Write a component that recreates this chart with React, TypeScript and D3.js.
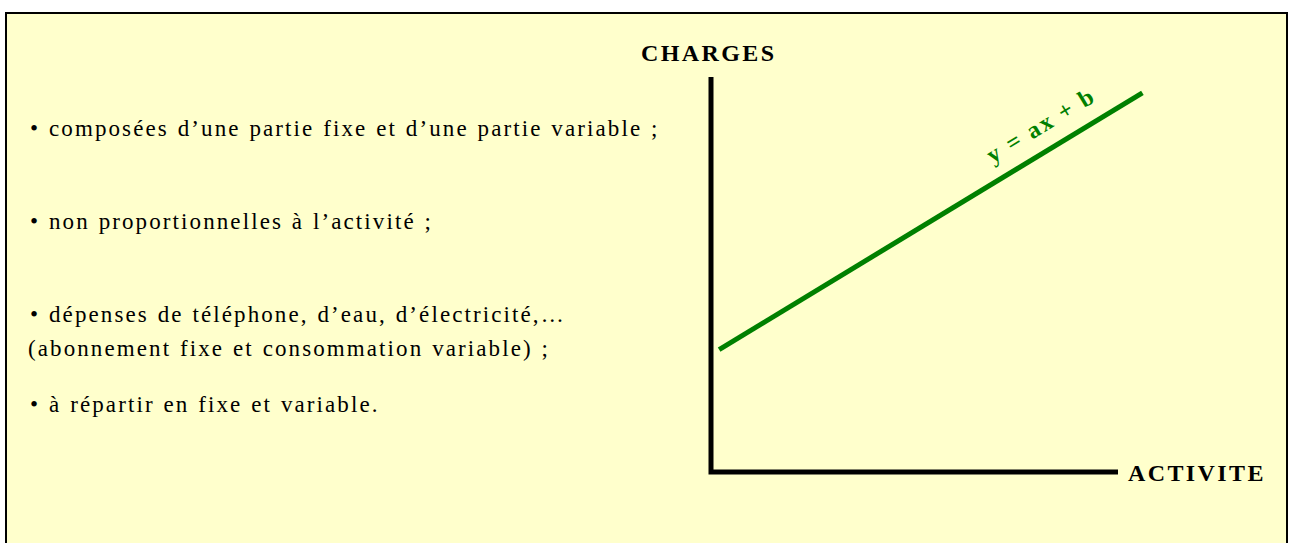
import { useEffect, useRef } from "react";
import * as d3 from "d3";

// text of the left column
const bulletLines = [
  "• composées d’une partie fixe et d’une partie variable ;",
  "• non proportionnelles à l’activité ;",
  "• dépenses de téléphone, d’eau, d’électricité,…",
  "(abonnement fixe et consommation variable) ;",
  "• à répartir en fixe et variable.",
];
const bulletBaselines = [136, 229, 322, 356, 412];

// axis labels
const yAxisLabel = "CHARGES";
const xAxisLabel = "ACTIVITE";
const lineLabel = "y = ax + b";

// the cost line, in axis units (0..100)
const activity = [2, 106];
const charges = [31, 96];

export default function App() {
  const ref = useRef<SVGSVGElement>(null);

  useEffect(() => {
    const svg = d3.select(ref.current);
    svg.selectAll("*").remove();

    const width = 1289;
    const height = 543;

    // frame
    svg.append("rect").attr("width", width).attr("height", height).attr("fill", "#ffffff");
    svg
      .append("rect")
      .attr("x", 6)
      .attr("y", 13)
      .attr("width", 1281)
      .attr("height", height)
      .attr("fill", "#ffffcc")
      .attr("stroke", "#000")
      .attr("stroke-width", 2);

    const font = "'Liberation Serif', 'Times New Roman', serif";

    // left column
    svg
      .append("g")
      .selectAll("text")
      .data(bulletLines)
      .enter()
      .append("text")
      .attr("x", (d, i) => (i === 3 ? 28 : 30))
      .attr("y", (d, i) => bulletBaselines[i])
      .attr("font-family", font)
      .attr("font-size", 23)
      .attr("letter-spacing", 2.1)
      .attr("word-spacing", 1)
      .attr("fill", "#000")
      .text((d) => d);

    // scales
    const x = d3.scaleLinear().domain([0, 100]).range([711, 1118]);
    const y = d3.scaleLinear().domain([0, 100]).range([472, 77]);

    // axes
    svg
      .append("path")
      .attr("d", `M${x(0)},${y(100)}V${y(0)}H${x(100)}`)
      .attr("fill", "none")
      .attr("stroke", "#000")
      .attr("stroke-width", 5);

    svg
      .append("text")
      .attr("x", 641)
      .attr("y", 61)
      .attr("font-family", font)
      .attr("font-weight", "bold")
      .attr("font-size", 24)
      .attr("letter-spacing", 2.4)
      .text(yAxisLabel);

    svg
      .append("text")
      .attr("x", x(100) + 10)
      .attr("y", y(0) + 9)
      .attr("font-family", font)
      .attr("font-weight", "bold")
      .attr("font-size", 24)
      .attr("letter-spacing", 2.4)
      .text(xAxisLabel);

    // the cost line
    const pts: [number, number][] = activity.map((a, i) => [x(a), y(charges[i])]);
    svg
      .append("path")
      .attr("d", d3.line()(pts))
      .attr("stroke", "#008000")
      .attr("stroke-width", 5)
      .attr("fill", "none");

    const angle = (Math.atan2(pts[1][1] - pts[0][1], pts[1][0] - pts[0][0]) * 180) / Math.PI;
    svg
      .append("text")
      .attr("transform", `translate(1045,132) rotate(${angle})`)
      .attr("text-anchor", "middle")
      .attr("font-family", font)
      .attr("font-weight", "bold")
      .attr("font-size", 24)
      .attr("letter-spacing", 2.2)
      .attr("fill", "#008000")
      .text(lineLabel);
  }, []);

  return (
    <svg
      ref={ref}
      width={1289}
      height={543}
      style={{ position: "fixed", left: 0, top: 0 }}
    />
  );
}
